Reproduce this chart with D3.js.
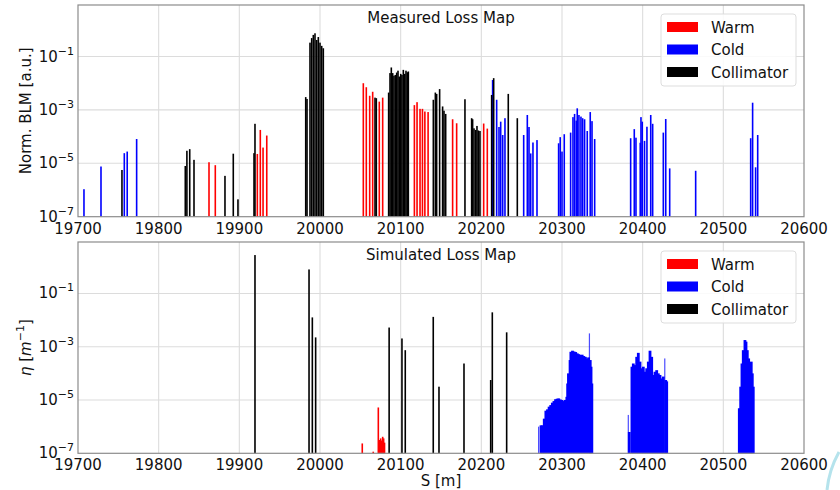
<!DOCTYPE html>
<html>
<head>
<meta charset="utf-8">
<script src="https://cdn.jsdelivr.net/npm/d3@7"></script>
<style>
  body { margin: 0; background: #fff; }
  svg { font-family: "DejaVu Sans", sans-serif; }
</style>
</head>
<body>
<div id="chart"></div>
<script>
// [s in m, log10 of loss]
const measuredWarm = [
  [19862.4,-4.96],[19870.2,-5.07],[19922.3,-4.65],[19926,-3.75],[19929.4,-4.41],[19934,-3.96],
  [20053.7,-2.0],[20057.4,-2.15],[20061.6,-2.47],[20065.3,-2.32],[20073.5,-2.69],[20077.7,-2.54],
  [20117,-2.82],[20120.3,-2.71],[20124,-2.96],[20127,-2.96],[20130,-3.06],[20134,-3.08],
  [20164.4,-3.35],[20169.4,-3.5],[20202.9,-3.51],[20207.4,-3.7]
];
const measuredCold = [
  [19707.4,-5.97],[19728.5,-5.12],[19757.4,-4.62],[19761,-4.56],[19772.7,-4.09],
  [20214,-1.88],[20219,-2.62],[20221.9,-3.64],[20224,-3.44],[20226.5,-3.94],[20229.3,-3.31],
  [20252.5,-3.94],[20257,-3.19],[20259.1,-3.64],[20261.2,-4.63],[20264,-4.22],[20269,-4.13],
  [20295.8,-4.25],[20297.8,-4.02],[20300,-4.56],[20302.8,-3.91],[20310.7,-3.85],[20313.6,-3.27],
  [20315.6,-3.15],[20317.7,-3.4],[20318.9,-2.94],[20321,-3.19],[20323.5,-3.25],[20325.6,-3.31],
  [20328,-3.35],[20331.3,-3.79],[20335,-3.08],[20337.2,-3.42],[20340.5,-4.09],
  [20385.1,-4.06],[20389.6,-3.72],[20391.7,-4.04],[20397,-4.23],[20397.9,-3.27],[20399.5,-3.44],
  [20402.3,-4.16],[20405.3,-3.63],[20410,-3.19],[20412.4,-3.52],[20425.6,-3.85],[20428.6,-3.34],
  [20433.5,-5.19],[20465.7,-5.28],[20533.9,-4.06],[20536.3,-2.73],[20540,-5.15],[20542.6,-3.94]
];
const measuredColl = [
  [19754.5,-5.25],[19833,-5.1],[19835,-4.53],[19838.5,-4.47],[19843.8,-4.87],[19882.2,-5.47],
  [19892.5,-4.64],[19898.3,-6.35],[19918.2,-4.62],[19919.4,-3.52],[19982.3,-2.52],[19983.9,-2.59],
  [19987.6,-0.48],[19989.7,-0.31],[19991.7,-0.19],[19993.8,-0.13],[19995.9,-0.38],[19997.9,-0.27],
  [20000,-0.48],[20002.1,-0.6],[20004.1,-0.69],[20068.2,-2.54],[20069.8,-2.56],
  [20085.1,-2.35],[20086.8,-1.62],[20088.4,-1.41],[20090.1,-1.62],[20091.7,-1.72],[20093.4,-1.69],
  [20095.1,-1.6],[20096.7,-1.53],[20098.3,-1.75],[20100.1,-1.65],[20101.6,-1.69],[20103.3,-1.5],
  [20105,-1.65],[20106.6,-1.53],[20108.2,-1.59],[20109.5,-1.56],
  [20140.5,-2.62],[20143,-2.35],[20144.6,-2.4],[20148.3,-2.22],[20152,-2.87],[20153.7,-3.03],
  [20155.8,-3.15],[20179.7,-2.6],[20188,-3.31],[20189.2,-3.35],[20190.9,-3.69],[20193,-3.75],
  [20194.6,-3.6],[20196.3,-3.77],[20198.3,-3.79],[20212.8,-2.44],[20215.3,-1.81],
  [20233.4,-2.4],[20244.6,-3.31]
];

const simulatedWarm = [
  [20052.4,-6.63],[20066,-6.94],[20072.3,-5.28],[20073.5,-6.5],[20075.2,-6.44],
  [20076.5,-6.52],[20077.7,-6.38],[20078.9,-6.44],[20080,-6.6]
];
const simulatedColdSpikes = [[20271,-6.0],[20334,-2.5],[20382.2,-5.56],[20427.4,-3.44]];
const simulatedCold = [
  [20274,-5.95],[20276,-5.95],[20278,-5.7],[20280,-5.4],[20282,-5.35],[20284,-5.25],[20286,-5.19],
  [20288,-5.1],[20290,-5.04],[20292,-4.97],[20294,-4.95],[20296,-4.94],[20298,-4.98],[20300,-5.0],
  [20302,-5.04],[20304,-5.0],[20306,-4.88],[20307,-4.38],[20308,-4.0],[20310,-3.5],[20311,-3.19],
  [20313,-3.15],[20315,-3.18],[20317,-3.2],[20319,-3.25],[20321,-3.28],[20323,-3.31],[20325,-3.3],
  [20327,-3.35],[20329,-3.38],[20331,-3.44],[20333,-3.4],[20335,-3.5],[20336,-3.75],
  [20337,-4.38],
  [20383.4,-6.2],[20386.7,-3.75],[20388.4,-3.63],[20390.5,-3.69],[20392.6,-3.38],
  [20394.6,-3.23],[20396.7,-3.56],[20398.8,-3.81],[20400.8,-3.75],[20402.9,-3.94],[20405,-3.81],
  [20407,-3.56],[20409.1,-3.15],[20411.2,-3.38],[20413.2,-4.06],[20415.3,-3.94],[20417.4,-3.88],
  [20419.4,-4.0],[20421.5,-4.06],[20423.6,-4.19],[20425.6,-4.12],[20428.6,-4.25],
  [20429.8,-4.3],
  [20519.8,-5.31],[20521.5,-4.5],[20523.1,-3.63],[20524.7,-3.13],[20526.8,-2.75],[20528.1,-2.81],
  [20529.7,-3.13],[20531.4,-3.44],[20533,-3.75],[20534.6,-3.56],[20535.9,-4.0],[20537.1,-4.5]
];
const simulatedColl = [
  [19919.4,0.44],[19986.4,-0.1],[19990.5,-1.9],[19994.6,-2.65],[20085.7,-2.28],[20101.6,-2.69],
  [20105.7,-3.13],[20140.4,-1.88],[20147.5,-4.5],[20178.5,-3.63],[20211.6,-4.25],[20213.6,-1.71],
  [20231.4,-2.46]
];

const xTicks = [19700,19800,19900,20000,20100,20200,20300,20400,20500,20600];
const yTickExps = [-7,-5,-3,-1];
const legendNames = ["Warm","Cold","Collimator"];

const colors = { Warm: "#ff0000", Cold: "#0000ff", Collimator: "#000000" };

const W = 840, H = 490;
const svg = d3.select("#chart").append("svg").attr("width", W).attr("height", H);

const left = 78, right = 804;
const x = d3.scaleLinear().domain([19700, 20600]).range([left, right]);

function drawPanel(top, bottom, title, sets, ylabel) {
  const y = d3.scaleLog().domain([1e-7, Math.pow(10, 0.93)]).range([bottom, top]);
  const g = svg.append("g");

  // grid
  g.selectAll(".vg").data(xTicks.slice(1, -1)).enter().append("line")
    .attr("x1", d => x(d)).attr("x2", d => x(d))
    .attr("y1", top).attr("y2", bottom)
    .attr("stroke", "#dcdcdc").attr("stroke-width", 1.1);
  g.selectAll(".hg").data(yTickExps.slice(1)).enter().append("line")
    .attr("x1", left).attr("x2", right)
    .attr("y1", d => y(Math.pow(10, d))).attr("y2", d => y(Math.pow(10, d)))
    .attr("stroke", "#dcdcdc").attr("stroke-width", 1.1);

  // bars
  sets.forEach(s => {
    g.selectAll(null).data(s.data).enter().append("rect")
      .attr("x", d => x(d[0]) - s.w / 2)
      .attr("width", s.w)
      .attr("y", d => y(Math.pow(10, d[1])))
      .attr("height", d => bottom - y(Math.pow(10, d[1])))
      .attr("fill", colors[s.type])
      .attr("fill-opacity", s.op || 1);
  });

  // frame
  g.append("rect").attr("x", left).attr("y", top)
    .attr("width", right - left).attr("height", bottom - top)
    .attr("fill", "none").attr("stroke", "#8c8c8c").attr("stroke-width", 1.2);

  // x tick labels
  g.selectAll(".xt").data(xTicks).enter().append("text")
    .attr("x", d => x(d)).attr("y", bottom + 17)
    .attr("text-anchor", "middle").attr("font-size", 15).attr("fill", "#111")
    .text(d => d);

  // y tick labels
  const yt = g.selectAll(".yt").data(yTickExps).enter().append("text")
    .attr("x", left - 4).attr("y", d => y(Math.pow(10, d)) + 5)
    .attr("text-anchor", "end").attr("font-size", 15).attr("fill", "#111");
  yt.append("tspan").text("10");
  yt.append("tspan").attr("dy", -7).attr("font-size", 11).text(d => "\u2212" + (-d));

  // title
  g.append("text").attr("x", (left + right) / 2).attr("y", top + 18)
    .attr("text-anchor", "middle").attr("font-size", 15).attr("fill", "#111")
    .text(title);

  // legend
  const lx = 661, ly = top + 9;
  g.append("rect").attr("x", lx).attr("y", ly).attr("width", 135).attr("height", 72)
    .attr("rx", 3).attr("fill", "#fff").attr("fill-opacity", 0.85)
    .attr("stroke", "#dddddd").attr("stroke-width", 1);
  legendNames.forEach((n, i) => {
    const cy = ly + 13 + i * 22.5;
    g.append("rect").attr("x", lx + 6).attr("y", cy - 5).attr("width", 31).attr("height", 10)
      .attr("fill", colors[n]);
    g.append("text").attr("x", lx + 50).attr("y", cy + 5.5)
      .attr("font-size", 15).attr("fill", "#111").text(n);
  });

  // y label
  const yl = svg.append("text")
    .attr("transform", `translate(31, ${(top + bottom) / 2}) rotate(-90)`)
    .attr("text-anchor", "middle").attr("font-size", 15).attr("fill", "#111");
  ylabel(yl);
}

drawPanel(5, 216.7, "Measured Loss Map", [
  { type: "Warm", data: measuredWarm, w: 1.6 },
  { type: "Cold", data: measuredCold, w: 1.6 },
  { type: "Collimator", data: measuredColl, w: 1.6 }
], t => t.text("Norm. BLM [a.u.]"));

drawPanel(242, 453.3, "Simulated Loss Map", [
  { type: "Warm", data: simulatedWarm, w: 1.6 },
  { type: "Cold", data: simulatedCold, w: 2.8 },
  { type: "Cold", data: simulatedColdSpikes, w: 1.2, op: 0.7 },
  { type: "Collimator", data: simulatedColl, w: 1.6 }
], t => {
  t.append("tspan").attr("font-style", "italic").text("\u03b7");
  t.append("tspan").text(" [");
  t.append("tspan").attr("font-style", "italic").text("m");
  t.append("tspan").attr("dy", -7).attr("font-size", 11).text("\u22121");
  t.append("tspan").attr("dy", 7).text("]");
});

// x label
svg.append("text").attr("x", (left + right) / 2).attr("y", 486)
  .attr("text-anchor", "middle").attr("font-size", 15).attr("fill", "#111")
  .text("S [m]");

// faint decoration at bottom right corner of the screenshot
svg.append("path").attr("d", "M839,452 Q829,470 827,490")
  .attr("fill", "none").attr("stroke", "#b5e3ec").attr("stroke-width", 3);
</script>
</body>
</html>
